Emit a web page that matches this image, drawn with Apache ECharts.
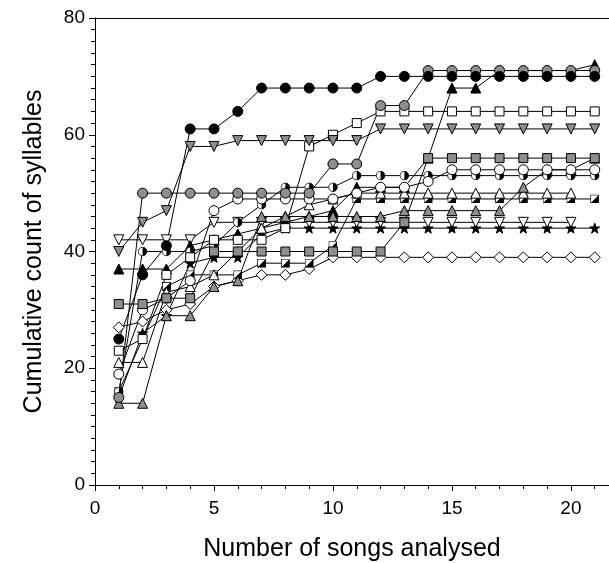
<!DOCTYPE html>
<html>
<head>
<meta charset="utf-8">
<script src="https://cdn.jsdelivr.net/npm/echarts@6/dist/echarts.min.js"></script>
<style>
  html, body { margin: 0; padding: 0; background: #fff; }
  #chart { width: 609px; height: 563px; }
</style>
</head>
<body>
<div id="chart"></div>
<script>
// Songs analysed (x) for every bird
const songs = [1,2,3,4,5,6,7,8,9,10,11,12,13,14,15,16,17,18,19,20,21];

// Cumulative syllable counts, one array per bird
const blackCircle  = [25,36,41,61,61,64,68,68,68,68,68,70,70,70,70,70,70,70,70,70,70];
const grayCircle   = [15,50,50,50,50,50,50,50,50,55,55,65,65,71,71,71,71,71,71,71,71];
const grayDownTri  = [40,45,47,58,58,59,59,59,59,59,59,61,61,61,61,61,61,61,61,61,61];
const whiteSquare  = [23,25,36,39,42,42,42,44,58,60,62,64,64,64,64,64,64,64,64,64,64];
const blackTri     = [37,37,37,41,42,43,44,45,46,47,51,51,51,56,68,68,71,71,71,71,72];
const graySquare   = [31,31,32,32,40,40,40,40,40,40,40,40,45,56,56,56,56,56,56,56,56];
const whiteCircle  = [19,30,32,35,47,49,49,49,49,49,50,51,51,52,54,54,54,54,54,54,54];
const halfCircle   = [16,40,40,40,41,45,48,51,51,51,53,53,53,53,53,53,53,53,53,53,53];
const grayTri      = [14,14,29,29,34,35,46,46,46,46,46,46,47,47,47,47,47,51,54,54,56];
const whiteTri     = [21,21,33,34,36,40,44,46,48,49,50,50,50,50,50,50,50,50,50,50];
const halfSquare   = [16,25,34,36,36,36,38,38,38,41,49,49,49,49,49,49,49,49,49,49,49];
const whiteDownTri = [42,42,42,42,45,45,45,45,45,45,45,45,45,45,45,45,45,45,45,45];
const star         = [15,26,29,38,39,39,43,44,44,44,44,44,44,44,44,44,44,44,44,44,44];
const diamond      = [27,28,30,31,34,35,36,36,37,39,39,39,39,39,39,39,39,39,39,39,39];

// Axis ticks
const xTicks = [0,5,10,15,20];
const yTicks = [0,20,40,60,80];

const GRAY = '#8e8e8e';

function svgUrl(body, w, h) {
  const s = '<svg xmlns="http://www.w3.org/2000/svg" width="' + w + '" height="' + h +
            '" viewBox="0 0 ' + w + ' ' + h + '">' + body + '</svg>';
  return 'image://data:image/svg+xml;charset=utf-8,' + encodeURIComponent(s);
}

const SYM = {
  halfCircle: svgUrl(
    '<circle cx="10" cy="10" r="8.6" fill="#fff" stroke="#000" stroke-width="1.6"/>' +
    '<path d="M10 1.4 A8.6 8.6 0 0 1 10 18.6 Z" fill="#000"/>', 20, 20),
  halfSquare: svgUrl(
    '<rect x="1" y="1" width="18" height="18" fill="#fff" stroke="#000" stroke-width="1.8"/>' +
    '<path d="M19 1 L19 19 L1 19 Z" fill="#000"/>', 20, 20),
  star: 'path://M10 0 L12.35 6.9 L19.5 6.9 L13.8 11.2 L15.9 18.1 L10 14 L4.1 18.1 L6.2 11.2 L0.5 6.9 L7.65 6.9 Z'
};

function mk(name, data, symbol, fill, size, rotate) {
  return {
    name: name,
    type: 'line',
    data: data.map((v, i) => [songs[i], v]),
    symbol: symbol,
    symbolSize: size,
    symbolRotate: rotate || 0,
    showAllSymbol: true,
    lineStyle: { color: '#000', width: 1 },
    itemStyle: { color: fill, borderColor: '#000', borderWidth: 1 },
    emphasis: { disabled: true },
    z: 2
  };
}

const series = [
  mk('diamond', diamond, 'diamond', '#fff', 11),
  mk('star', star, SYM.star, '#000', 10),
  mk('whiteDownTri', whiteDownTri, 'triangle', '#fff', 10, 180),
  mk('blackTri', blackTri, 'triangle', '#000', 10),
  mk('halfSquare', halfSquare, SYM.halfSquare, '#fff', 9),
  mk('whiteTri', whiteTri, 'triangle', '#fff', 10),
  mk('grayTri', grayTri, 'triangle', GRAY, 10),
  mk('halfCircle', halfCircle, SYM.halfCircle, '#fff', 10),
  mk('whiteCircle', whiteCircle, 'circle', '#fff', 10),
  mk('graySquare', graySquare, 'rect', GRAY, 9),
  mk('whiteSquare', whiteSquare, 'rect', '#fff', 9),
  mk('grayDownTri', grayDownTri, 'triangle', GRAY, 10, 180),
  mk('grayCircle', grayCircle, 'circle', GRAY, 10),
  mk('blackCircle', blackCircle, 'circle', '#000', 10)
];

const chart = echarts.init(document.getElementById('chart'), null, { renderer: 'canvas' });

const axisFont = { fontFamily: 'Liberation Sans, Arial, sans-serif', color: '#000' };
const X_MAX = 21.6;

chart.setOption({
  animation: false,
  backgroundColor: '#fff',
  grid: {
    left: 95, top: 18, right: 0, bottom: 78,
    outerBoundsMode: 'none', containLabel: false
  },
  xAxis: [{
    type: 'value', min: 0, max: X_MAX, interval: 5,
    axisLine: { show: true, onZero: false, lineStyle: { color: '#000', width: 1 } },
    axisTick: { show: true, length: 6, lineStyle: { color: '#000' } },
    axisLabel: Object.assign({ fontSize: 19, margin: 14,
      formatter: v => xTicks.includes(v) ? String(v) : '' }, axisFont),
    splitLine: { show: false },
    name: 'Number of songs analysed',
    nameLocation: 'middle', nameGap: 52, nameMoveOverlap: false,
    nameTextStyle: Object.assign({ fontSize: 25 }, axisFont)
  }, {
    // unit minor ticks along the bottom
    type: 'value', min: 0, max: X_MAX, interval: 1, position: 'bottom',
    axisLine: { show: false, onZero: false },
    axisTick: { show: true, length: 4, lineStyle: { color: '#000' } },
    axisLabel: { show: false },
    splitLine: { show: false }
  }, {
    // top frame line
    type: 'value', min: 0, max: X_MAX, interval: 5, position: 'top',
    axisLine: { show: true, onZero: false, lineStyle: { color: '#000', width: 1 } },
    axisTick: { show: false },
    axisLabel: { show: false },
    splitLine: { show: false }
  }],
  yAxis: [{
    type: 'value', min: 0, max: 80, interval: 20,
    axisLine: { show: true, onZero: false, lineStyle: { color: '#000', width: 1 } },
    axisTick: { show: true, length: 6, lineStyle: { color: '#000' } },
    minorTick: { show: true, splitNumber: 10, length: 4, lineStyle: { color: '#000' } },
    axisLabel: Object.assign({ fontSize: 19, margin: 10,
      formatter: v => yTicks.includes(v) ? String(v) : '' }, axisFont),
    splitLine: { show: false },
    name: 'Cumulative count of syllables',
    nameLocation: 'middle', nameGap: 48, nameRotate: 90, nameMoveOverlap: false,
    nameTextStyle: Object.assign({ fontSize: 25 }, axisFont)
  }],
  series: series
});
</script>
</body>
</html>
